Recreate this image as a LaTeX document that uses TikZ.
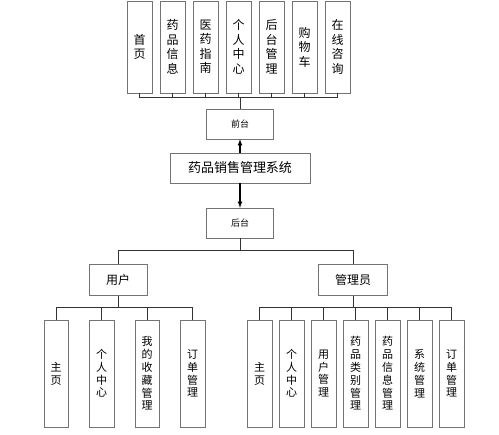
\documentclass[tikz,border=0pt]{standalone}
\usepackage{fontspec}
\setmainfont{Noto Sans CJK SC}
\usetikzlibrary{shapes,arrows}
\usetikzlibrary{positioning}
\tikzstyle{topbox} = [draw=black!55, minimum width=25pt, minimum height=92pt,
    inner sep=0pt, align=center, font=\fontsize{12}{14.5}\selectfont]
\tikzstyle{subbox} = [draw=black!55, minimum width=24.5pt, minimum height=107pt,
    inner sep=0pt, align=center, font=\fontsize{11}{12.8}\selectfont]
\tikzstyle{midbox} = [draw=black!55, minimum width=67pt, minimum height=30pt,
    inner sep=0pt, font=\fontsize{9}{10}\selectfont]
\tikzstyle{rolebox} = [draw=black!55, minimum height=31pt, inner sep=0pt,
    font=\fontsize{12}{14}\selectfont]
\tikzstyle{link} = [draw=black!80, line width=0.6pt]

\begin{document}
\begin{tikzpicture}[node distance = 33pt]
  \useasboundingbox (0,0) rectangle (499pt,-435pt);
  % front end pages
  \node [topbox] (t1) at (139.5pt,-47pt) {首\\页};
  \node [topbox, right of=t1] (t2) {药\\品\\信\\息};
  \node [topbox, right of=t2] (t3) {医\\药\\指\\南};
  \node [topbox, right of=t3] (t4) {个\\人\\中\\心};
  \node [topbox, right of=t4] (t5) {后\\台\\管\\理};
  \node [topbox, right of=t5] (t6) {购\\物\\车};
  \node [topbox, right of=t6] (t7) {在\\线\\咨\\询};
  % middle
  \node [midbox] (qt) at (240pt,-124pt) {前台};
  \node [midbox, minimum width=140pt, font=\fontsize{13}{15}\selectfont] (sys)
    at (240pt,-168pt) {药品销售管理系统};
  \node [midbox] (ht) at (240pt,-223pt) {后台};
  \node [rolebox, minimum width=58pt] (user) at (118pt,-280pt) {用户};
  \node [rolebox, minimum width=69pt] (admin) at (353pt,-280pt) {管理员};
  % user pages
  \node [subbox] (u1) at (56pt,-373.5pt) {主\\页};
  \node [subbox, right of=u1, node distance=45.5pt] (u2) {个\\人\\中\\心};
  \node [subbox, right of=u2, node distance=45.5pt] (u3) {我\\的\\收\\藏\\管\\理};
  \node [subbox, right of=u3, node distance=45.5pt] (u4) {订\\单\\管\\理};
  % admin pages
  \node [subbox] (a1) at (259.5pt,-373.5pt) {主\\页};
  \node [subbox, right of=a1, node distance=32pt] (a2) {个\\人\\中\\心};
  \node [subbox, right of=a2, node distance=32pt] (a3) {用\\户\\管\\理};
  \node [subbox, right of=a3, node distance=32pt] (a4) {药\\品\\类\\别\\管\\理};
  \node [subbox, right of=a4, node distance=32pt] (a5) {药\\品\\信\\息\\管\\理};
  \node [subbox, right of=a5, node distance=32pt] (a6) {系\\统\\管\\理};
  \node [subbox, right of=a6, node distance=32pt] (a7) {订\\单\\管\\理};
  % buses
  \coordinate (bt) at (240pt,-97pt);
  \coordinate (bh) at (240pt,-250pt);
  \coordinate (bu) at (118pt,-307pt);
  \coordinate (ba) at (353pt,-307pt);
  \draw [link] (qt.north) -- (bt);
  \draw [link] (t1.south) |- (bt);
  \draw [link] (t2.south) |- (bt);
  \draw [link] (t3.south) |- (bt);
  \draw [link] (t4.south) |- (bt);
  \draw [link] (t5.south) |- (bt);
  \draw [link] (t6.south) |- (bt);
  \draw [link] (t7.south) |- (bt);
  \draw [-latex, black, line width=1.1pt] (sys.north) -- (qt.south);
  \draw [-latex, black, line width=1.1pt] (sys.south) -- (ht.north);
  \draw [link] (ht.south) -- (bh);
  \draw [link] (user.north) |- (bh);
  \draw [link] (admin.north) |- (bh);
  \draw [link] (user.south) -- (bu);
  \draw [link] (u1.north) |- (bu);
  \draw [link] (u2.north) |- (bu);
  \draw [link] (u3.north) |- (bu);
  \draw [link] (u4.north) |- (bu);
  \draw [link] (admin.south) -- (ba);
  \draw [link] (a1.north) |- (ba);
  \draw [link] (a2.north) |- (ba);
  \draw [link] (a3.north) |- (ba);
  \draw [link] (a4.north) |- (ba);
  \draw [link] (a5.north) |- (ba);
  \draw [link] (a6.north) |- (ba);
  \draw [link] (a7.north) |- (ba);
\end{tikzpicture}
\end{document}
